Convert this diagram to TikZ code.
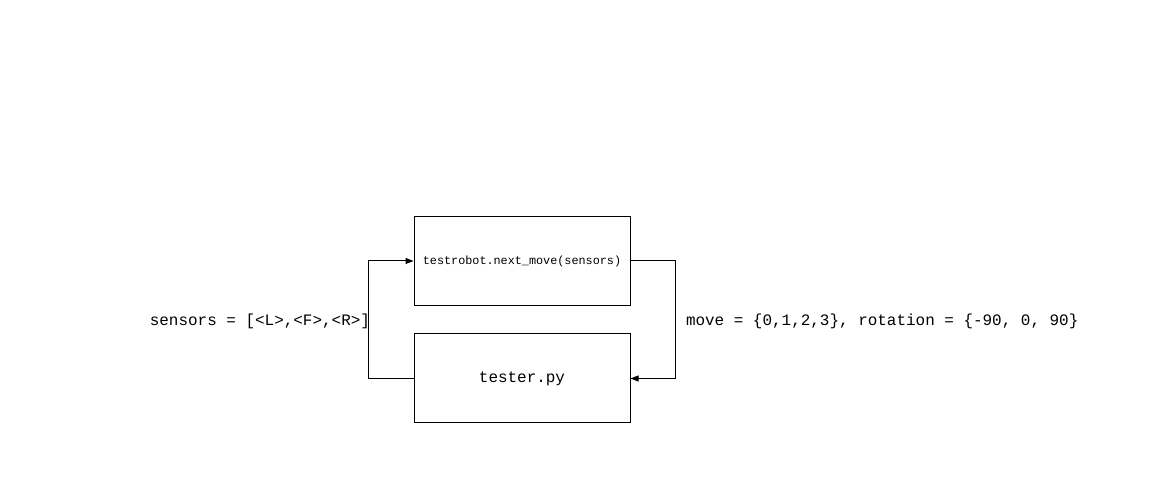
\documentclass[tikz,border=0pt]{standalone}
\usepackage{fontspec}
\setmainfont{Liberation Mono}
\usetikzlibrary{arrows.meta}
\tikzset{
  block/.style={draw,line width=1pt,minimum width=216pt,minimum height=89pt,inner sep=0pt},
  link/.style={line width=1pt,-{Triangle[length=8pt,width=6pt]}},
  bigtext/.style={font=\fontsize{15.95}{18}\selectfont},
  smalltext/.style={font=\fontsize{11.8}{14}\selectfont}
}
\begin{document}
\begin{tikzpicture}[x=1pt,y=1pt]
\useasboundingbox (0,0) rectangle (1157,495);
\node[block,smalltext] (robot) at (522,234) {testrobot.next\_move(sensors)};
\node[block,bigtext] (tester) at (522,116.5) {tester.py};
\draw[link] (tester.west) -- ++(-45,0) |- (robot.west)
  node[pos=.25,left,bigtext,inner xsep=0pt,xshift=2pt,yshift=-2pt] (sensorlbl) {sensors = [<L>,<F>,<R>]};
\draw[link] (robot.east) -- ++(45,0) |- (tester.east)
  node[pos=.25,right,bigtext,inner xsep=10pt,yshift=-2pt] (movelbl) {move = \{0,1,2,3\}, rotation = \{-90, 0, 90\}};
\end{tikzpicture}
\end{document}
